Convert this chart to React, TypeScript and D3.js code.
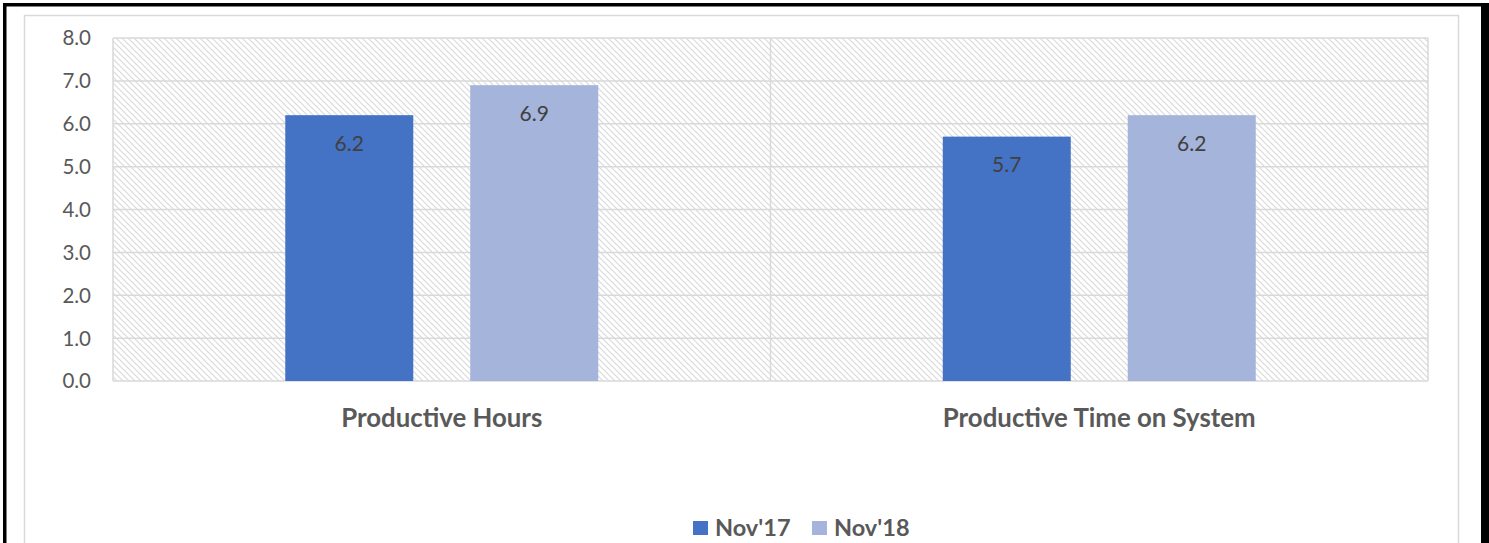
import { useEffect } from 'react';
import * as d3 from 'd3';

const categories = ['Productive Hours', 'Productive Time on System'];
const seriesNames = ["Nov'17", "Nov'18"];
const nov17 = [6.2, 5.7];
const nov18 = [6.9, 6.2];
const seriesValues = [nov17, nov18];
const seriesColors = ['#4472C4', '#A5B4DA'];
const yTicks = [0, 1, 2, 3, 4, 5, 6, 7, 8];

const W = 1489;
const H = 543;
const plot = { left: 113, right: 1428, top: 38, bottom: 381 };
const FONT = 'Lato, Carlito, Calibri, sans-serif';
const GRID = '#d9d9d9';
const TEXT = '#595959';

export default function App() {
  useEffect(() => {
    document.body.style.margin = '0';
  }, []);

  const x = d3.scaleBand<string>()
    .domain(categories)
    .range([plot.left, plot.right])
    .padding(0);

  // bar pair takes about half of each category band
  const groupWidth = x.bandwidth() * 0.476;
  const inner = d3.scaleBand<string>()
    .domain(seriesNames)
    .range([-groupWidth / 2, groupWidth / 2])
    .paddingInner(0.308)
    .paddingOuter(0);

  const y = d3.scaleLinear()
    .domain([0, 8])
    .range([plot.bottom, plot.top]);

  const bounds = [plot.left, ...categories.map(c => (x(c) as number) + x.bandwidth())];

  return (
    <svg width={W} height={H} style={{ display: 'block' }} fontFamily={FONT}>
      <defs>
        <pattern id="hatch" patternUnits="userSpaceOnUse" width={6} height={6}>
          <rect width={6} height={6} fill="#ffffff" />
          <path d="M-1,-1 L7,7 M-1,5 L1,7 M5,-1 L7,1" stroke="#d9d9d9" strokeWidth={1.1} />
        </pattern>
      </defs>
      <rect width={W} height={H} fill="#ffffff" />

      {/* outer frames */}
      <rect x={24.5} y={15.5} width={1434} height={600} fill="none" stroke={GRID} strokeWidth={1.5} />
      <rect x={4.75} y={4.75} width={1490} height={600} fill="none" stroke="#000" strokeWidth={3.5} />
      <rect x={1481} y={3} width={8} height={H} fill="#000" />

      {/* plot background */}
      <rect x={plot.left} y={plot.top} width={plot.right - plot.left} height={plot.bottom - plot.top} fill="url(#hatch)" />

      {/* gridlines */}
      {yTicks.map(t => (
        <line key={'g' + t} x1={plot.left} x2={plot.right} y1={y(t)} y2={y(t)} stroke={GRID} strokeWidth={1.5} />
      ))}
      {bounds.map((b, i) => (
        <line key={'v' + i} x1={b} x2={b} y1={plot.top} y2={plot.bottom} stroke={GRID} strokeWidth={1.5} />
      ))}

      {/* y tick labels */}
      {yTicks.map(t => (
        <text key={'t' + t} x={91} y={y(t)} dy="0.36em" textAnchor="end" fontSize={20.5} fill={TEXT}>
          {d3.format('.1f')(t)}
        </text>
      ))}

      {/* bars */}
      {categories.map((c, ci) => {
        const cx = (x(c) as number) + x.bandwidth() / 2;
        return (
          <g key={c}>
            {seriesNames.map((s, si) => {
              const v = seriesValues[si][ci];
              const bx = cx + (inner(s) as number);
              return (
                <g key={s}>
                  <rect x={bx} y={y(v)} width={inner.bandwidth()} height={y(0) - y(v)} fill={seriesColors[si]} />
                  <text x={bx + inner.bandwidth() / 2} y={y(v) + 28} dy="0.36em" textAnchor="middle" fontSize={21} fill="#404040">
                    {d3.format('.1f')(v)}
                  </text>
                </g>
              );
            })}
            <text x={cx} y={418} dy="0.36em" textAnchor="middle" fontSize={25.8} fontWeight="bold" fill={TEXT}>
              {c}
            </text>
          </g>
        );
      })}

      {/* legend */}
      {seriesNames.map((s, i) => (
        <g key={'l' + s} transform={`translate(${693 + i * 119}, 0)`}>
          <rect x={0} y={521} width={15} height={14} fill={seriesColors[i]} />
          <text x={22} y={528} dy="0.36em" fontSize={23.5} fontWeight="bold" fill={TEXT}>
            {s}
          </text>
        </g>
      ))}
    </svg>
  );
}
